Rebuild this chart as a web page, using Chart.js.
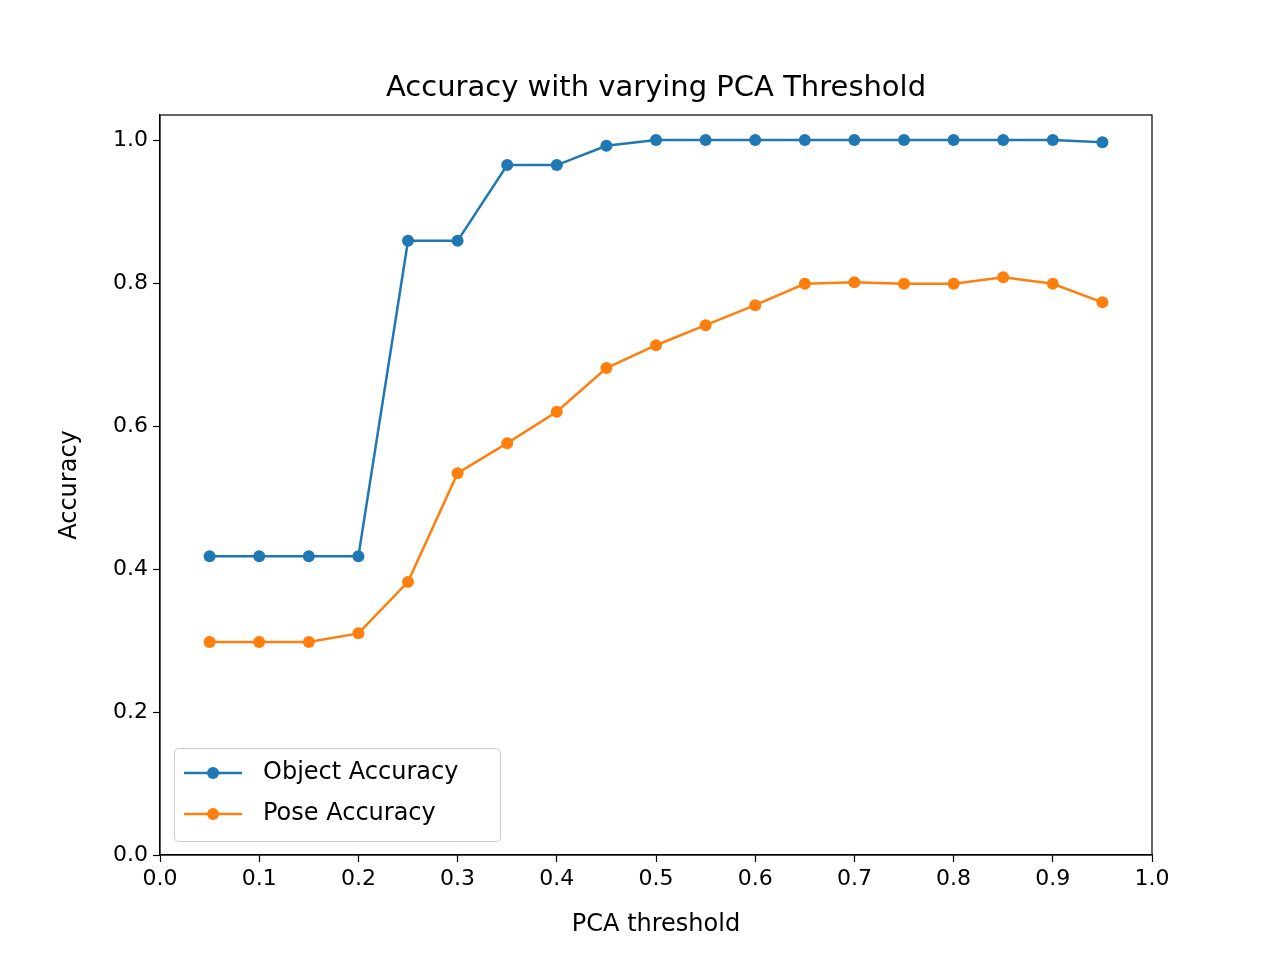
<!DOCTYPE html>
<html>
<head>
<meta charset="utf-8">
<script src="https://cdn.jsdelivr.net/npm/chart.js@4/dist/chart.umd.min.js"></script>
<style>
  body { margin: 0; background: #fff; }
  canvas { display: block; }
</style>
</head>
<body>
<canvas id="chart" width="1280" height="960"></canvas>
<script>
// Data
const thresholds = [0.05, 0.1, 0.15, 0.2, 0.25, 0.3, 0.35, 0.4, 0.45, 0.5, 0.55, 0.6, 0.65, 0.7, 0.75, 0.8, 0.85, 0.9, 0.95];
const objectAccuracy = [0.418, 0.418, 0.418, 0.418, 0.859, 0.859, 0.965, 0.965, 0.992, 1.0, 1.0, 1.0, 1.0, 1.0, 1.0, 1.0, 1.0, 1.0, 0.997];
const poseAccuracy = [0.298, 0.298, 0.298, 0.310, 0.382, 0.534, 0.576, 0.620, 0.681, 0.713, 0.741, 0.769, 0.799, 0.801, 0.799, 0.799, 0.808, 0.799, 0.773];
const xTicks = [0, 0.1, 0.2, 0.3, 0.4, 0.5, 0.6, 0.7, 0.8, 0.9, 1.0];
const yTicks = [0, 0.2, 0.4, 0.6, 0.8, 1.0];

const FONT = 'DejaVu Sans';
const BLUE = '#1f77b4';
const ORANGE = '#ff7f0e';

function toPoints(values) {
  return thresholds.map((x, i) => ({ x: x, y: values[i] }));
}

function makeSeries(label, values, color) {
  return {
    label: label,
    data: toPoints(values),
    borderColor: color,
    backgroundColor: color,
    borderWidth: 2.5,
    pointRadius: 6,
    pointBorderWidth: 0,
    tension: 0
  };
}

// Title, axis titles and the inset legend drawn by hand
const decorations = {
  id: 'decorations',
  afterDraw(chart) {
    const c = chart.ctx;
    const area = chart.chartArea;
    c.save();
    c.fillStyle = '#000';
    c.textAlign = 'center';
    c.textBaseline = 'middle';
    c.font = '29px ' + FONT;
    c.fillText('Accuracy with varying PCA Threshold', (area.left + area.right) / 2, 88);
    c.font = '24px ' + FONT;
    c.fillText('PCA threshold', (area.left + area.right) / 2, 925);
    c.translate(70, (area.top + area.bottom) / 2);
    c.rotate(-Math.PI / 2);
    c.fillText('Accuracy', 0, 0);
    c.restore();

    // legend box
    c.save();
    const bx = 174, by = 748, bw = 326, bh = 93;
    c.fillStyle = 'rgba(255,255,255,0.8)';
    c.strokeStyle = '#cccccc';
    c.lineWidth = 1;
    c.beginPath();
    c.roundRect(bx + 0.5, by + 0.5, bw, bh, 4);
    c.fill();
    c.stroke();
    c.font = '24px ' + FONT;
    c.textAlign = 'left';
    c.textBaseline = 'middle';
    chart.data.datasets.forEach((ds, i) => {
      const y = by + 25 + i * 41;
      c.strokeStyle = ds.borderColor;
      c.lineWidth = 2.5;
      c.beginPath();
      c.moveTo(bx + 10, y);
      c.lineTo(bx + 68, y);
      c.stroke();
      c.fillStyle = ds.borderColor;
      c.beginPath();
      c.arc(bx + 39, y, 6, 0, Math.PI * 2);
      c.fill();
      c.fillStyle = '#000';
      c.fillText(ds.label, bx + 89, y);
    });
    c.restore();
  }
};

const tickFont = { family: FONT, size: 22 };

new Chart(document.getElementById('chart'), {
  type: 'line',
  data: {
    datasets: [
      makeSeries('Object Accuracy', objectAccuracy, BLUE),
      makeSeries('Pose Accuracy', poseAccuracy, ORANGE)
    ]
  },
  options: {
    responsive: false,
    devicePixelRatio: 1,
    animation: false,
    layout: { padding: { top: 115, right: 128, left: 0, bottom: 0 } },
    plugins: {
      legend: { display: false },
      tooltip: { enabled: false }
    },
    scales: {
      x: {
        type: 'linear',
        min: 0,
        max: 1,
        afterFit: scale => { scale.height = 105; },
        afterBuildTicks: scale => { scale.ticks = xTicks.map(v => ({ value: v })); },
        grid: { drawOnChartArea: false, color: '#000', tickLength: 7, tickWidth: 1.2 },
        border: { color: '#000', width: 1.2 },
        ticks: {
          color: '#000',
          font: tickFont,
          padding: 4,
          maxRotation: 0,
          callback: v => v.toFixed(1)
        }
      },
      y: {
        min: 0,
        max: 1.035,
        afterFit: scale => { scale.width = 160; },
        afterBuildTicks: scale => { scale.ticks = yTicks.map(v => ({ value: v })); },
        grid: { drawOnChartArea: false, color: '#000', tickLength: 7, tickWidth: 1.2 },
        border: { color: '#000', width: 1.2 },
        ticks: {
          color: '#000',
          font: tickFont,
          padding: 5,
          callback: v => v.toFixed(1)
        }
      }
    }
  },
  plugins: [decorations,
    {
      id: 'frame',
      afterDraw(chart) {
        const a = chart.chartArea, c = chart.ctx;
        c.save();
        c.strokeStyle = '#000';
        c.lineWidth = 1.2;
        c.strokeRect(a.left, a.top, a.right - a.left, a.bottom - a.top);
        c.restore();
      }
    }]
});
</script>
</body>
</html>
